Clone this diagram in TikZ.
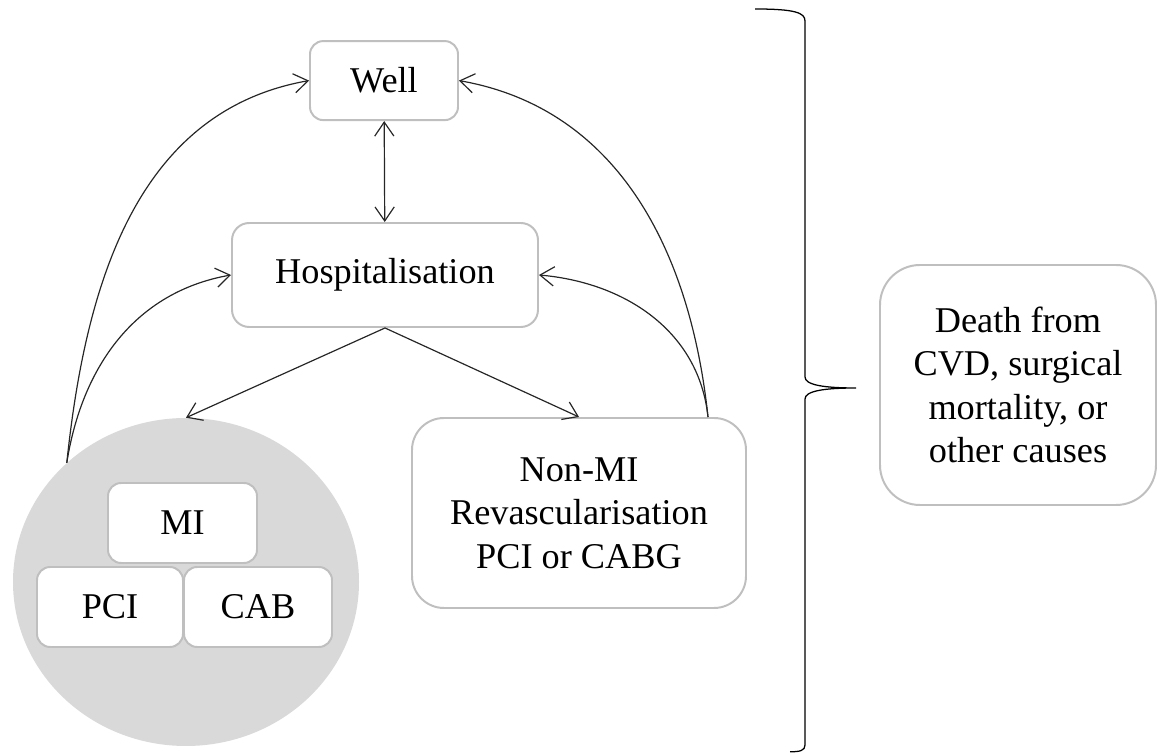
\documentclass[tikz,border=0pt]{standalone}
\usepackage{fontspec}
\setmainfont{Liberation Serif}
\usetikzlibrary{shapes.geometric,arrows.meta}
\definecolor{boxgray}{HTML}{BFBFBF}
\definecolor{groupfill}{HTML}{D9D9D9}

\begin{document}
\begin{tikzpicture}[
        >={Straight Barb[length=3.5mm,width=4.8mm]},
        statebox/.style={draw=boxgray, line width=1.4pt, fill=white, rounded corners=#1,
            align=center, inner sep=0pt, font=\fontsize{25.8pt}{31pt}\selectfont},
        statebox/.default=0.33cm,
        link/.style={line width=0.85pt, draw=black!85}
    ]
        \useasboundingbox (0,0) rectangle (28.925,18.825);

        % Nodes
        \node[statebox, minimum width=3.7cm, minimum height=1.975cm] (well) at (9.6,16.81) {Well};
        \node[statebox=0.43cm, minimum width=7.65cm, minimum height=2.6cm] (hosp) at (9.625,11.95) {Hospitalisation};
        \node[ellipse, fill=groupfill, minimum width=8.65cm, minimum height=8.2cm, inner sep=0pt] (group) at (4.65,4.275) {};
        \node[statebox, minimum width=3.725cm, minimum height=2cm] (mi) at (4.5625,5.75) {MI};
        \node[statebox, minimum width=3.65cm, minimum height=2cm] (pci) at (2.75,3.65) {PCI};
        \node[statebox, minimum width=3.7cm, minimum height=2cm] (cab) at (6.45,3.65) {CAB};
        \node[statebox=0.8cm, minimum width=8.35cm, minimum height=4.75cm] (nonmi) at (14.475,6.0) {Non-MI\\Revascularisation\\PCI or CABG};
        \node[statebox=1cm, minimum width=6.9cm, minimum height=6cm] (death) at (25.45,9.2) {Death from\\CVD, surgical\\mortality, or\\other causes};
        \coordinate (nmtop) at ([xshift=-0.975cm]nonmi.north east);

        % Edges
        \draw[link,<->] (well) -- (hosp);
        \draw[link,->] (hosp.south) -- (group.north);
        \draw[link,->] (hosp.south) -- (nonmi.north);
        \draw[link,->] (group.135) to[out=84, in=190] (well.west);
        \draw[link,->] (group.135) to[out=81, in=190] (hosp.west);
        \draw[link,->] (nmtop) to[out=96, in=-10] (well.east);
        \draw[link,->] (nmtop) to[out=96, in=-5] (hosp.east);

        % Brace
        \draw[line width=0.9pt] (18.875,18.6) .. controls (19.9,18.6) and (20.125,18.5) .. (20.125,18.3)
            -- (20.125,9.4) .. controls (20.125,9.2) and (20.6,9.125) .. (21.4,9.125)
            .. controls (20.6,9.125) and (20.125,9.05) .. (20.125,8.85)
            -- (20.125,0.2) .. controls (20.125,0.06) and (20.0,0.03) .. (19.75,0.03);
    \end{tikzpicture}
\end{document}
